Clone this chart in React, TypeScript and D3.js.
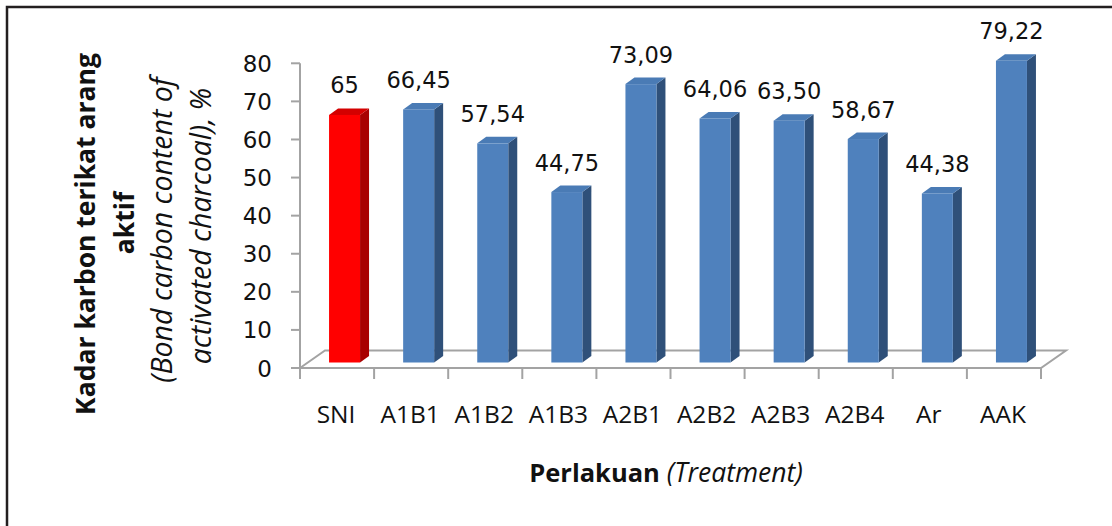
import React from "react";
import * as d3 from "d3";

const categories = ["SNI", "A1B1", "A1B2", "A1B3", "A2B1", "A2B2", "A2B3", "A2B4", "Ar", "AAK"];
const values = [65, 66.45, 57.54, 44.75, 73.09, 64.06, 63.5, 58.67, 44.38, 79.22];
const yTicks = [0, 10, 20, 30, 40, 50, 60, 70, 80];
const highlightCategory = "SNI";

const W = 1112;
const H = 526;

const fmt = (v: number) => (Number.isInteger(v) ? String(v) : v.toFixed(2).replace(".", ","));

export default function App() {
  const x = d3.scaleBand<string>().domain(categories).range([300, 1041]).paddingInner(0).paddingOuter(0);
  const y = d3.scaleLinear().domain([0, 80]).range([368, 63.3]);

  const floorDx = 25, floorDy = -17.5;
  const barOffX = 7.5, barOffY = -5.5;
  const depthDx = 9, depthDy = -6.5;
  const barW = 31;
  const axisColor = "#a3a3a3";
  const numFont = "'DejaVu Sans', sans-serif";
  const textFont = "'Open Sans', sans-serif";

  const x0 = x.range()[0];
  const x1 = x.range()[1];
  const y0 = y(0);

  const bands = categories.map((c, i) => ({ c, v: values[i], s: x(c)!, bw: x.bandwidth() }));
  const xTickPos = [...categories.map((c) => x(c)!), x1];

  return (
    <svg
      width={W}
      height={H}
      viewBox={`0 0 ${W} ${H}`}
      style={{ position: "absolute", left: 0, top: 0, background: "#fff" }}
    >
      <rect x={0} y={0} width={W} height={H} fill="#fff" />
      <rect x={7} y={7} width={W + 20} height={H + 20} fill="none" stroke="#231f20" strokeWidth={2.5} />

      <path
        d={`M${x0},${y0} L${x0 + floorDx},${y0 + floorDy} L${x1 + floorDx},${y0 + floorDy} L${x1},${y0} Z`}
        fill="none"
        stroke={axisColor}
        strokeWidth={2}
      />
      <line x1={x0} x2={x0} y1={y0} y2={y(80)} stroke={axisColor} strokeWidth={2} />
      {yTicks.map((t) => (
        <g key={t}>
          <line x1={x0 - 9} x2={x0} y1={y(t)} y2={y(t)} stroke={axisColor} strokeWidth={2} />
          <text x={272} y={y(t) + 8.5} textAnchor="end" fontFamily={numFont} fontSize={23} fill="#111">
            {t}
          </text>
        </g>
      ))}
      {xTickPos.map((p, i) => (
        <line key={i} x1={p} x2={p} y1={y0} y2={y0 + 11} stroke={axisColor} strokeWidth={2} />
      ))}

      {bands.map(({ c, v, s, bw }) => {
        const red = c === highlightCategory;
        const front = red ? "#ff0000" : "#4f81bd";
        const side = red ? "#a80000" : "#2f5079";
        const top = red ? "#d40000" : "#4a7bb5";
        const fx = s + bw / 2 + barOffX - barW / 2;
        const fb = y0 + barOffY;
        const ft = y(v) + barOffY;
        return (
          <g key={c}>
            <polygon
              points={`${fx + barW},${ft} ${fx + barW + depthDx},${ft + depthDy} ${fx + barW + depthDx},${fb + depthDy} ${fx + barW},${fb}`}
              fill={side}
            />
            <polygon
              points={`${fx},${ft} ${fx + barW},${ft} ${fx + barW + depthDx},${ft + depthDy} ${fx + depthDx},${ft + depthDy}`}
              fill={top}
            />
            <rect x={fx} y={ft} width={barW} height={fb - ft} fill={front} />
            <text
              x={fx + barW / 2}
              y={ft + depthDy - 15}
              textAnchor="middle"
              fontFamily={numFont}
              fontSize={22.5}
              fill="#111"
            >
              {fmt(v)}
            </text>
            <text x={s + bw / 2 - 1} y={423} textAnchor="middle" fontFamily={textFont} fontSize={24.5} fill="#111">
              {c}
            </text>
          </g>
        );
      })}

      <text x={666} y={482} textAnchor="middle" fontFamily={textFont} fontSize={25.5} fill="#111">
        <tspan fontWeight="bold">Perlakuan</tspan>
        <tspan fontStyle="italic" fontSize={26.5}> (Treatment)</tspan>
      </text>

      <g fontFamily={textFont} fill="#111" textAnchor="middle">
        <text transform={`translate(95,234) rotate(-90)`} fontWeight="bold" fontSize={26.5}>
          Kadar karbon terikat arang
        </text>
        <text transform={`translate(134,223) rotate(-90)`} fontWeight="bold" fontSize={26.5}>
          aktif
        </text>
        <text transform={`translate(172,230) rotate(-90)`} fontStyle="italic" fontSize={28.5}>
          (Bond carbon content of
        </text>
        <text transform={`translate(211,226) rotate(-90)`} fontStyle="italic" fontSize={28.5}>
          activated charcoal), %
        </text>
      </g>
    </svg>
  );
}
